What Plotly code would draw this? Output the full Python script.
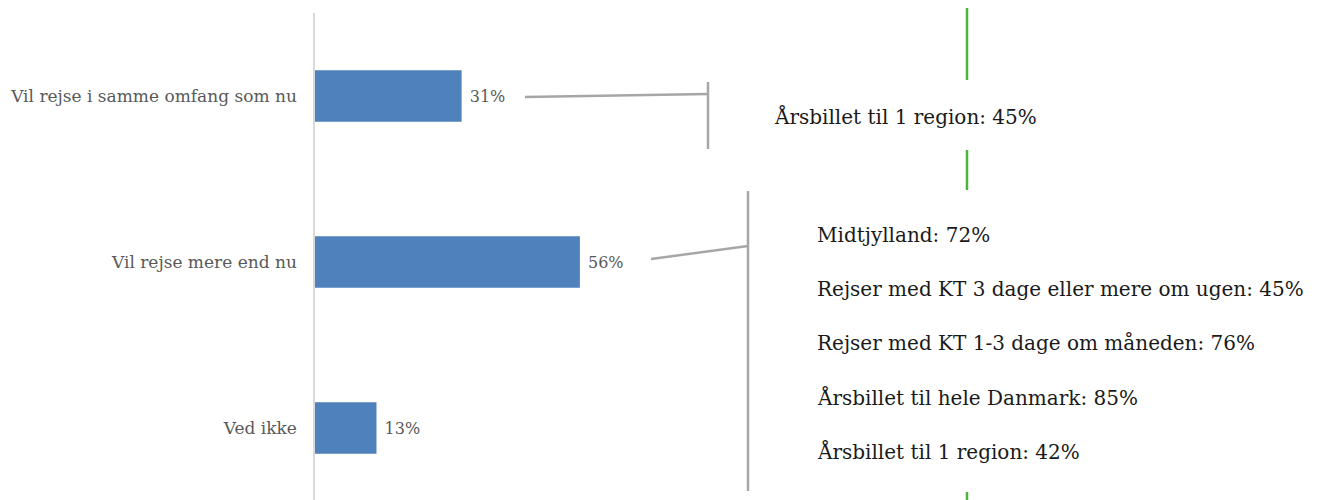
import plotly.graph_objects as go

# data
categories = ["Vil rejse i samme omfang som nu", "Vil rejse mere end nu", "Ved ikke"]
values = [31, 56, 13]
labels = [f"{v}%" for v in values]

note_top = ["Årsbillet til 1 region: 45%"]
note_more = [
    "Midtjylland: 72%",
    "Rejser med KT 3 dage eller mere om ugen: 45%",
    "Rejser med KT 1-3 dage om måneden: 76%",
    "Årsbillet til hele Danmark: 85%",
    "Årsbillet til 1 region: 42%",
]

OFF = 8  # page body margin
W, H = 1318 - OFF, 500 - OFF
L, T = 315 - OFF, 13 - OFF
PX_PER_PCT = 4.73
PX_PER_CAT = 166
FONT = "DejaVu Serif"
plot_w = W - L
plot_h = H - T


# screen pixel -> data / paper helpers for the callout decorations
def dx(px):
    return (px - OFF - L) / PX_PER_PCT


def dy(py):
    return (py - OFF - T) / PX_PER_CAT - 0.5


def py_paper(py):
    return 1 - (py - OFF - T) / plot_h


fig = go.Figure(go.Bar(
    y=list(range(len(categories))),
    x=values,
    orientation="h",
    marker=dict(color="#4F81BD", line=dict(width=0)),
    width=0.31,
    text=[" " + s for s in labels],
    textposition="outside",
    cliponaxis=False,
    textfont=dict(family=FONT, size=16, color="#595959"),
    hoverinfo="skip",
))

gray = dict(color="#A6A6A6", width=2.5)
green = dict(color="#4CB43C", width=2.5)

shapes = [
    # callout for "samme omfang"
    dict(type="line", x0=dx(525), y0=dy(97), x1=dx(708), y1=dy(94), line=gray),
    dict(type="line", x0=dx(708), y0=dy(82), x1=dx(708), y1=dy(149), line=gray),
    # callout for "mere end nu"
    dict(type="line", x0=dx(651), y0=dy(259), x1=dx(748), y1=dy(246), line=gray),
    dict(type="line", x0=dx(748), y0=dy(191), x1=dx(748), y1=dy(491), line=gray),
]
for s in shapes:
    s["xref"] = "x"
    s["yref"] = "y"
    s["layer"] = "above"

# green separators (paper y so they are not clipped at the plot top)
for y0, y1 in [(0, 80), (150, 190), (492, 502)]:
    shapes.append(dict(type="line", xref="x", yref="paper",
                       x0=dx(967), x1=dx(967), y0=py_paper(y0), y1=py_paper(y1),
                       line=green, layer="above"))

note_font = dict(family=FONT, size=20, color="#1A1A1A")
annotations = [
    dict(x=dx(772), y=dy(116), text=note_top[0], xanchor="left", yanchor="middle",
         showarrow=False, font=note_font)
]
for i, t in enumerate(note_more):
    annotations.append(dict(
        x=dx(815), y=dy(235 + i * 54), text=t, xanchor="left", yanchor="middle",
        showarrow=False, font=note_font))
for a in annotations:
    a["xref"] = "x"
    a["yref"] = "y"

fig.update_layout(
    width=W, height=H,
    margin=dict(l=L, r=0, t=T, b=0, pad=0),
    plot_bgcolor="white", paper_bgcolor="white",
    showlegend=False,
    shapes=shapes,
    annotations=annotations,
    xaxis=dict(range=[0, plot_w / PX_PER_PCT], visible=False, fixedrange=True),
    yaxis=dict(
        range=[plot_h / PX_PER_CAT - 0.5, -0.5],
        tickmode="array",
        tickvals=list(range(len(categories))),
        ticktext=categories,
        ticks="",
        showgrid=False,
        zeroline=False,
        showline=True,
        linecolor="#D9D9D9",
        linewidth=1.5,
        ticklabelstandoff=13,
        tickfont=dict(family=FONT, size=17, color="#595959"),
        fixedrange=True,
    ),
)

fig.write_html("out.html")
